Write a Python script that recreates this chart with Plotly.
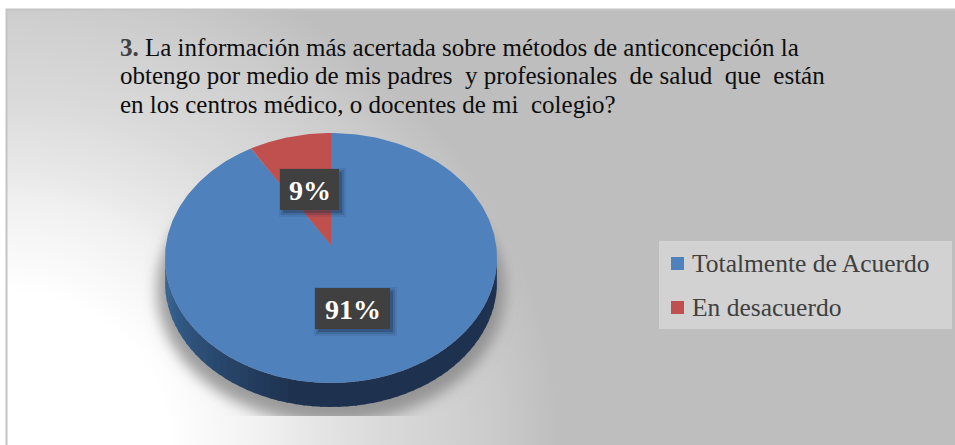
import base64

import numpy as np
import plotly.graph_objs as go

# Data
categories = ["Totalmente de Acuerdo", "En desacuerdo"]
shares = [91, 9]
colors = ["#4f81bd", "#c0504d"]

title_lines = [
    "<b style='color:#404040'>3.</b> La información más acertada sobre métodos de anticoncepción la",
    "obtengo por medio de mis padres  y profesionales  de salud  que  están",
    "en los centros médico, o docentes de mi  colegio?",
]

W, H = 955, 445
FONT = "Liberation Serif"

# pie geometry in pixels (axes are 1:1 with the page)
cx, cy = 331, 258
rx, ry = 166, 125
apex_y = 245
depth = 24
skew = 0.89  # the tilted pie foreshortens the top angles


def rim(turn):
    # turn = clockwise fraction of a full circle from 12 o'clock
    a = 2 * np.pi * turn
    return cx + rx * np.sin(a), cy - ry * np.cos(a)


# background: corner gradient, blurred pie shadow
svg = f"""<svg xmlns='http://www.w3.org/2000/svg' width='{W}' height='{H}'>
<defs>
<radialGradient id='g' gradientUnits='userSpaceOnUse' cx='0' cy='445' r='560'
 gradientTransform='translate(0 445) scale(1 0.91) translate(0 -445)'>
<stop offset='0.3' stop-color='#ffffff'/><stop offset='0.48' stop-color='#f0f0f0'/>
<stop offset='0.54' stop-color='#e8e8e8'/><stop offset='0.68' stop-color='#dadada'/>
<stop offset='0.83' stop-color='#cfcfcf'/><stop offset='0.89' stop-color='#cacaca'/>
<stop offset='1' stop-color='#bebebe'/></radialGradient>
<filter id='b' x='-20%' y='-20%' width='140%' height='140%'><feGaussianBlur stdDeviation='7'/></filter>
<clipPath id='c'><rect x='0' y='0' width='{W}' height='416'/></clipPath>
</defs>
<rect width='{W}' height='{H}' fill='white'/>
<rect x='6.5' y='9.5' width='{W}' height='{H}' fill='url(#g)' stroke='#c4c4c4' stroke-width='2'/>
<g clip-path='url(#c)'><ellipse cx='{cx}' cy='{cy + depth + 8}' rx='{rx + 8}' ry='{ry + 8}'
 fill='#808080' fill-opacity='0.75' filter='url(#b)'/></g>
</svg>"""
bg_src = "data:image/svg+xml;base64," + base64.b64encode(svg.encode()).decode()

fig = go.Figure()

# side wall, light on the left going dark towards the bottom
wall_left = np.array([0x3c, 0x6c, 0x9f])
wall_dark = np.array([0x1e, 0x32, 0x4f])
edges = np.linspace(0.25, 0.75, 61)
for t0, t1 in zip(edges[:-1], edges[1:]):
    ts = np.array([t0, t1 + 0.002])
    xs, ys = rim(ts)
    mix = np.clip((t0 - 0.53) / 0.22, 0, 1)
    c = (wall_left * mix + wall_dark * (1 - mix)).astype(int)
    fig.add_trace(go.Scatter(
        x=list(xs) + list(xs[::-1]),
        y=list(ys + depth) + list(ys[::-1]),
        mode="lines",
        fill="toself",
        fillcolor=f"rgb({c[0]},{c[1]},{c[2]})",
        line=dict(width=0),
        hoverinfo="skip",
        showlegend=False,
    ))

# top face: slices run clockwise from 12 o'clock, last category ends at the top
start = 0.0
for name, share, color in zip(categories, shares, colors):
    span = share / sum(shares)
    if name == categories[-1]:
        ts = np.linspace(1 - span * skew, 1, 40)
    else:
        ts = np.linspace(0, 1 - shares[-1] / sum(shares) * skew, 300)
    xs, ys = rim(ts)
    fig.add_trace(go.Scatter(
        x=[cx] + list(xs) + [cx],
        y=[apex_y] + list(ys) + [apex_y],
        mode="lines",
        fill="toself",
        fillcolor=color,
        line=dict(width=0),
        name=name,
        showlegend=False,
    ))
    start += span

shapes = []
annotations = []

# title
for i, line in enumerate(title_lines):
    annotations.append(dict(
        x=118, y=47 + i * 28.5, xref="x", yref="y", xanchor="left", yanchor="middle",
        text=line, showarrow=False, font=dict(family=FONT, size=25, color="#0d0d0d"),
    ))

# data labels with dark box and soft shadow
label_boxes = [(315, 288, 390, 329), (280, 169, 339, 210)]
for share, (x0, y0, x1, y1) in zip(shares, label_boxes):
    for grow, op in [(4, 0.10), (2, 0.18), (0, 0.30)]:
        shapes.append(dict(
            type="rect", x0=x0 + 3 - grow, x1=x1 + 3 + grow, y0=y0 + 3 - grow, y1=y1 + 3 + grow,
            fillcolor="#1a2a40", opacity=op, line=dict(width=0), layer="above",
        ))
    shapes.append(dict(
        type="rect", x0=x0, x1=x1, y0=y0, y1=y1,
        fillcolor="#404040", line=dict(width=0), layer="above",
    ))
    annotations.append(dict(
        x=(x0 + x1) / 2, y=(y0 + y1) / 2 + 1, xref="x", yref="y",
        text=f"<b>{share}%</b>", showarrow=False,
        font=dict(family=FONT, size=28, color="white"),
    ))

# legend
shapes.append(dict(
    type="rect", x0=659, x1=952, y0=241, y1=329,
    fillcolor="#d2d2d2", line=dict(width=0), layer="above",
))
for i, (name, color) in enumerate(zip(categories, colors)):
    y = 263.5 + i * 44
    shapes.append(dict(
        type="rect", x0=671, x1=684, y0=y - 6.5, y1=y + 6.5,
        fillcolor=color, line=dict(width=0), layer="above",
    ))
    annotations.append(dict(
        x=690, y=y, xref="x", yref="y", xanchor="left", yanchor="middle",
        text=name, showarrow=False, font=dict(family=FONT, size=25.5, color="#404040"),
    ))

fig.update_layout(
    width=W,
    height=H,
    margin=dict(l=0, r=0, t=0, b=0),
    paper_bgcolor="white",
    plot_bgcolor="rgba(0,0,0,0)",
    showlegend=False,
    xaxis=dict(range=[0, W], visible=False, fixedrange=True),
    yaxis=dict(range=[H, 0], visible=False, fixedrange=True),
    images=[dict(
        source=bg_src, xref="x", yref="y", x=0, y=0, sizex=W, sizey=H,
        sizing="stretch", xanchor="left", yanchor="top", layer="below",
    )],
    shapes=shapes,
    annotations=annotations,
)

# page margin off so the axes line up with the window
fig.write_html(
    "out.html",
    config=dict(displayModeBar=False),
    post_script="document.body.style.margin='0';document.body.style.overflow='hidden';",
)
